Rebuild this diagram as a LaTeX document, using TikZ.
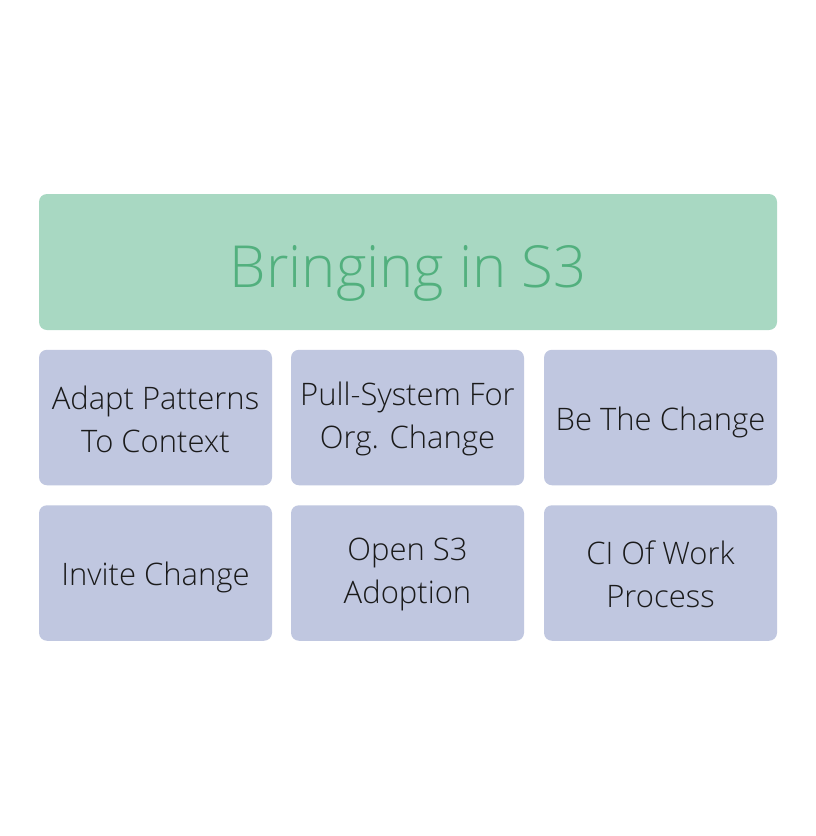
\documentclass[tikz,border=0pt]{standalone}
\usepackage{fontspec}
\setmainfont{Open Sans Light}
\definecolor{headfill}{HTML}{A8D8C2}
\definecolor{headtext}{HTML}{52B07E}
\definecolor{cellfill}{HTML}{C0C7E0}
\definecolor{celltext}{HTML}{1A1A1A}

\begin{document}
\begin{tikzpicture}[x=1pt,y=-1pt,
    head/.style={fill=headfill,rounded corners=8pt,minimum width=738pt,minimum height=136pt,
        inner sep=0pt,text=headtext,text height=50pt,text depth=0pt,font=\fontsize{58}{66}\selectfont},
    cell/.style={fill=cellfill,rounded corners=8pt,minimum width=233pt,minimum height=135.5pt,inner sep=0pt},
    label text/.style={inner sep=0pt,text=celltext,align=center,font=\fontsize{31}{43}\selectfont}]
    % frame
\useasboundingbox (0,0) rectangle (816,836);
\fill[white] (0,0) rectangle (816,836);

\node[head] (title) at (408,262) {Bringing in S3};

\newcommand{\colA}{155.5}
\newcommand{\colB}{407.5}
\newcommand{\colC}{660.5}
\newcommand{\rowA}{417.5}
\newcommand{\rowB}{573}

% boxes
\node[cell] (adapt) at (\colA,\rowA) {};
\node[cell] (pull) at (\colB,\rowA) {};
\node[cell] (be) at (\colC,\rowA) {};
\node[cell] (invite) at (\colA,\rowB) {};
\node[cell] (open) at (\colB,\rowB) {};
\node[cell] (ci) at (\colC,\rowB) {};

% texts
\node[label text] (adaptT) at ([yshift=-1.5pt]adapt.center) {Adapt Patterns\\To Context};
\node[label text] (pullT) at ([yshift=-1.5pt]pull.center) {Pull-System For\\Org. Change};
\node[label text] (beT) at ([yshift=-4.5pt]be.center) {Be The Change};
\node[label text] (inviteT) at ([yshift=-4.5pt]invite.center) {Invite Change};
\node[label text] (openT) at ([yshift=-1.5pt]open.center) {Open S3\\Adoption};
\node[label text] (ciT) at ([yshift=-1.5pt]ci.center) {CI Of Work\\Process};
\end{tikzpicture}
\end{document}
